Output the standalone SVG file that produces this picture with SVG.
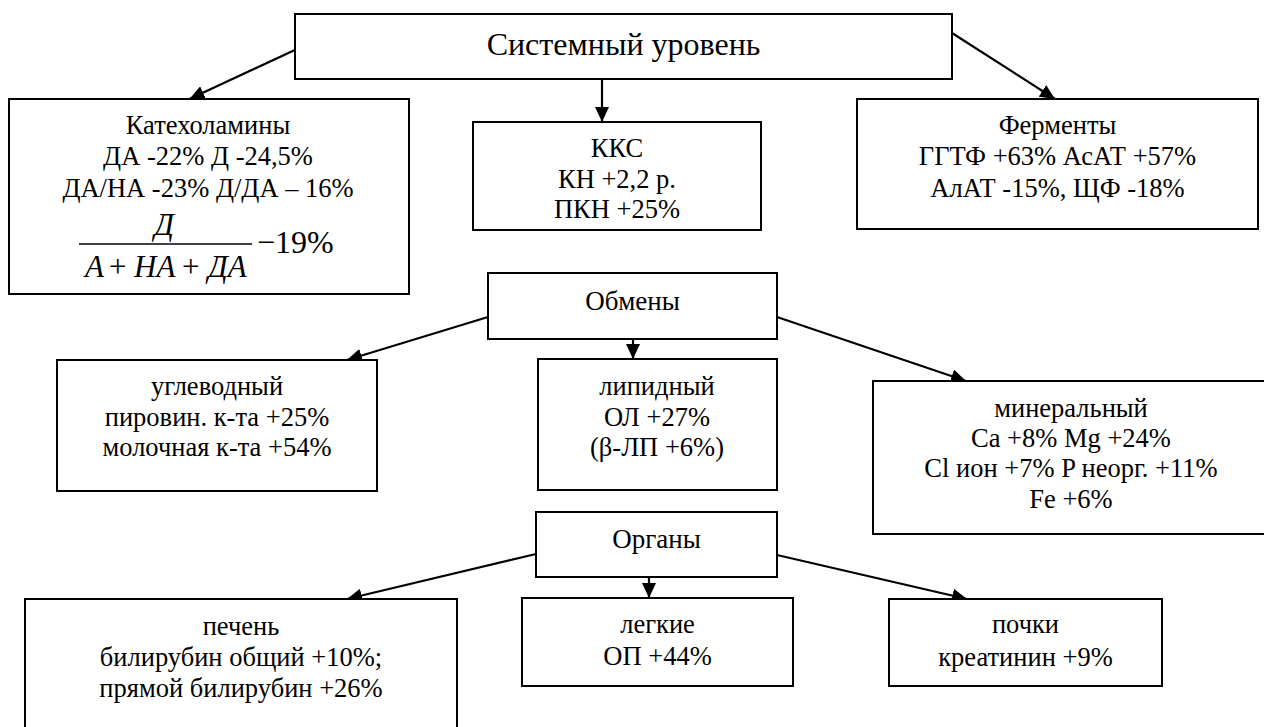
<svg xmlns="http://www.w3.org/2000/svg" width="1264" height="727" viewBox="0 0 1264 727">
<defs>
<style>
.box{fill:#fff;stroke:#000;stroke-width:2}
.t{font-family:'Liberation Serif','Times New Roman',serif;font-size:26.5px;fill:#000;text-anchor:middle}
.title{font-size:32px}
.h{font-size:27px}
.m{font-family:'Liberation Serif','Times New Roman',serif;font-size:31px;fill:#000;font-style:italic}
.p{font-style:normal}
.c{stroke:#000;stroke-width:2.2;fill:none;marker-end:url(#ah)}
</style>
<marker id="ah" markerUnits="userSpaceOnUse" markerWidth="16" markerHeight="14" refX="15" refY="7" orient="auto">
<path d="M0,0 L15,7 L0,14 z" fill="#000"/>
</marker>
</defs>
<rect width="1264" height="727" fill="#fff"/>
<g id="connectors">
<line class="c" x1="297" y1="49" x2="189.5" y2="99"/>
<line class="c" x1="602" y1="79" x2="602" y2="122"/>
<line class="c" x1="952" y1="33" x2="1055" y2="99"/>
<line class="c" x1="488" y1="317" x2="347" y2="360"/>
<line class="c" x1="633" y1="339" x2="633" y2="359"/>
<line class="c" x1="777" y1="317" x2="966" y2="381"/>
<line class="c" x1="536" y1="554" x2="347" y2="599"/>
<line class="c" x1="649" y1="577" x2="649" y2="598"/>
<line class="c" x1="777" y1="555" x2="967" y2="599"/>
</g>
<g id="system">
<rect class="box" x="295" y="14" width="657" height="65"/>
<text class="t title" x="623.5" y="55">Системный уровень</text>
</g>
<g id="catecholamines">
<rect class="box" x="9" y="99" width="400" height="195"/>
<text class="t" x="208" y="134">Катехоламины</text>
<text class="t" x="208" y="165">ДА -22% Д -24,5%</text>
<text class="t" x="208" y="197">ДА/НА -23% Д/ДА – 16%</text>
<text class="m" x="164" y="235" text-anchor="middle">Д</text>
<line x1="79" y1="244" x2="252" y2="244" stroke="#000" stroke-width="1.5"/>
<text class="m" y="277"><tspan x="85">А</tspan><tspan class="p" x="109">+</tspan><tspan x="134">НА</tspan><tspan class="p" x="182">+</tspan><tspan x="208">ДА</tspan></text>
<text class="t" x="257" y="253" style="font-size:32px;text-anchor:start">−19%</text>
</g>
<g id="kks">
<rect class="box" x="473" y="122" width="288" height="108"/>
<text class="t" x="617" y="157">ККС</text>
<text class="t" x="617" y="188">КН +2,2 р.</text>
<text class="t" x="617" y="218">ПКН +25%</text>
</g>
<g id="enzymes">
<rect class="box" x="857" y="99" width="401" height="130"/>
<text class="t" x="1057.5" y="134">Ферменты</text>
<text class="t" x="1057.5" y="165">ГГТФ +63% АсАТ +57%</text>
<text class="t" x="1057.5" y="197">АлАТ -15%, ЩФ -18%</text>
</g>
<g id="exchanges">
<rect class="box" x="488" y="273" width="289" height="66"/>
<text class="t h" x="632.5" y="310">Обмены</text>
</g>
<g id="carbohydrate">
<rect class="box" x="57" y="360" width="320" height="131"/>
<text class="t" x="217" y="395">углеводный</text>
<text class="t" x="217" y="426">пировин. к-та +25%</text>
<text class="t" x="217" y="456">молочная к-та +54%</text>
</g>
<g id="lipid">
<rect class="box" x="538" y="359" width="239" height="131"/>
<text class="t" x="657" y="395">липидный</text>
<text class="t" x="657" y="426">ОЛ +27%</text>
<text class="t" x="657" y="456">(β-ЛП +6%)</text>
</g>
<g id="mineral">
<rect class="box" x="873" y="381" width="393" height="153"/>
<text class="t" x="1071" y="417">минеральный</text>
<text class="t" x="1071" y="447">Ca +8% Mg +24%</text>
<text class="t" x="1071" y="477">Cl ион +7% P неорг. +11%</text>
<text class="t" x="1071" y="508">Fe +6%</text>
</g>
<g id="organs">
<rect class="box" x="536" y="512" width="241" height="65"/>
<text class="t h" x="656.5" y="548">Органы</text>
</g>
<g id="liver">
<rect class="box" x="25" y="599" width="432" height="140"/>
<text class="t" x="241" y="635">печень</text>
<text class="t" x="241" y="666">билирубин общий +10%;</text>
<text class="t" x="241" y="697">прямой билирубин +26%</text>
</g>
<g id="lungs">
<rect class="box" x="522" y="598" width="271" height="88"/>
<text class="t" x="657.5" y="633">легкие</text>
<text class="t" x="657.5" y="665">ОП +44%</text>
</g>
<g id="kidneys">
<rect class="box" x="889" y="599" width="273" height="87"/>
<text class="t" x="1025.5" y="633">почки</text>
<text class="t" x="1025.5" y="666">креатинин +9%</text>
</g>
</svg>
